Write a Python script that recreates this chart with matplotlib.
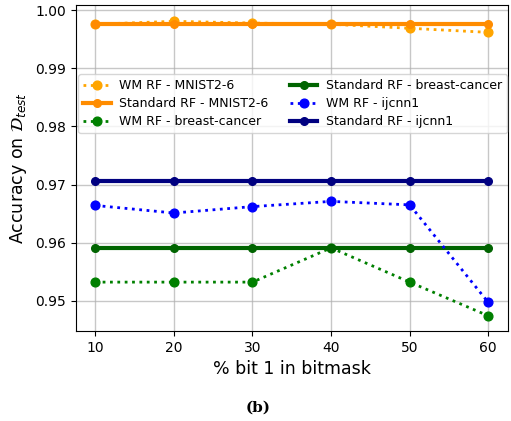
import numpy as np
import matplotlib
matplotlib.use('Agg')
import matplotlib.pyplot as plt

# data
bits = [10, 20, 30, 40, 50, 60]
wm_mnist = [0.9976, 0.9981, 0.9978, 0.9976, 0.9969, 0.9962]
std_mnist = [0.9976, 0.9976, 0.9976, 0.9976, 0.9976, 0.9976]
wm_breast = [0.9532, 0.9532, 0.9532, 0.9591, 0.9532, 0.9474]
std_breast = [0.9591, 0.9591, 0.9591, 0.9591, 0.9591, 0.9591]
wm_ijcnn = [0.9664, 0.9651, 0.9662, 0.9671, 0.9665, 0.9497]
std_ijcnn = [0.9706, 0.9706, 0.9706, 0.9706, 0.9706, 0.9706]

fig = plt.figure(figsize=(5.11, 4.21), dpi=100)
ax = fig.add_axes([0.148, 0.214, 0.846, 0.774])

wm_style = dict(linestyle=':', linewidth=2, marker='o', markersize=6.3)
std_style = dict(linestyle='-', linewidth=3, marker='o', markersize=5.5)

ax.plot(bits, wm_mnist, color='orange', label='WM RF - MNIST2-6', **wm_style)
ax.plot(bits, std_mnist, color='darkorange', label='Standard RF - MNIST2-6', **std_style)
ax.plot(bits, wm_breast, color='green', label='WM RF - breast-cancer', **wm_style)
ax.plot(bits, std_breast, color='darkgreen', label='Standard RF - breast-cancer', **std_style)
ax.plot(bits, wm_ijcnn, color='blue', label='WM RF - ijcnn1', **wm_style)
ax.plot(bits, std_ijcnn, color='navy', label='Standard RF - ijcnn1', **std_style)

ax.set_xlim(7.5, 62.5)
ax.set_ylim(0.9448, 1.0009)
ax.set_xticks(bits)
ax.set_yticks([0.95, 0.96, 0.97, 0.98, 0.99, 1.00])
ax.yaxis.set_major_formatter(matplotlib.ticker.FormatStrFormatter('%.2f'))
ax.tick_params(labelsize=10)
ax.grid(True, color='#b0b0b0', linewidth=1, alpha=0.7)
ax.set_axisbelow(True)

ax.set_xlabel('% bit 1 in bitmask', fontsize=12.5)
ax.set_ylabel(r'Accuracy on $\mathcal{D}_{test}$', fontsize=12.5)

ax.legend(ncol=2, loc='upper left', bbox_to_anchor=(0.006, 0.787), fontsize=9,
          handlelength=2.2, columnspacing=1.7, borderaxespad=0,
          labelspacing=0.4, handletextpad=0.7)

fig.text(0.505, 0.022, '(b)', fontsize=11, fontweight='bold',
         family='serif', ha='center')

fig.savefig('out.png', dpi=100)
